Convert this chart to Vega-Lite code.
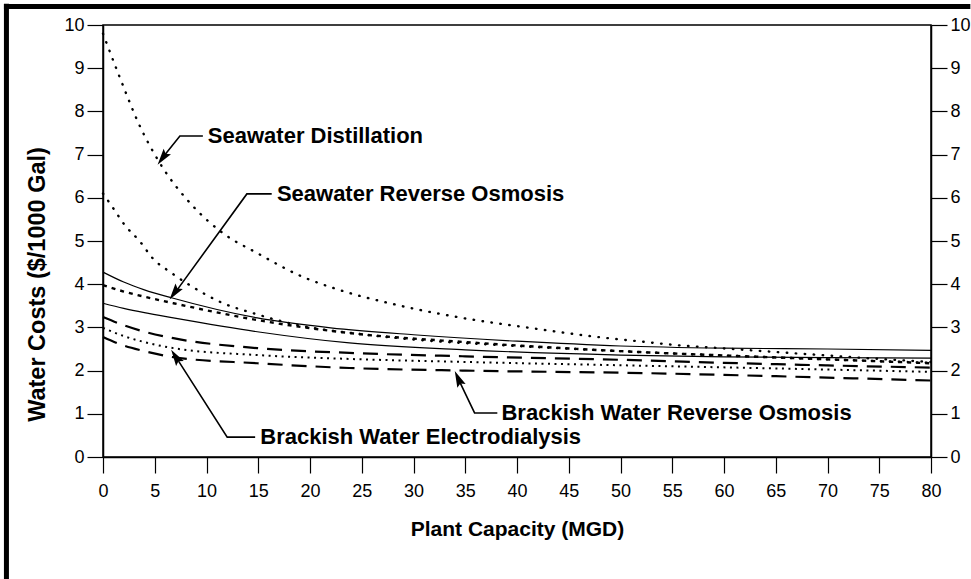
{
  "$schema": "https://vega.github.io/schema/vega-lite/v6.json",
  "width": 828,
  "height": 432,
  "autosize": {"type": "none"},
  "padding": {"left": 103, "top": 25, "right": 40, "bottom": 122},
  "background": "white",
  "config": {
    "view": {"stroke": "black", "strokeWidth": 1.5},
    "font": "Liberation Sans"
  },
  "datasets": {
    "curves": [
      {"s": "SD high", "x": 0, "y": 9.8}, {"s": "SD high", "x": 1.6, "y": 8.8}, {"s": "SD high", "x": 3.6, "y": 7.64}, {"s": "SD high", "x": 5.5, "y": 6.8}, {"s": "SD high", "x": 8.6, "y": 5.83}, {"s": "SD high", "x": 11.6, "y": 5.18}, {"s": "SD high", "x": 14.9, "y": 4.72}, {"s": "SD high", "x": 19.3, "y": 4.17}, {"s": "SD high", "x": 22.8, "y": 3.87}, {"s": "SD high", "x": 28.4, "y": 3.52}, {"s": "SD high", "x": 34.7, "y": 3.22}, {"s": "SD high", "x": 41.2, "y": 2.99}, {"s": "SD high", "x": 47.7, "y": 2.78}, {"s": "SD high", "x": 52.5, "y": 2.66}, {"s": "SD high", "x": 55.4, "y": 2.59}, {"s": "SD high", "x": 59.6, "y": 2.52}, {"s": "SD high", "x": 65, "y": 2.43}, {"s": "SD high", "x": 70, "y": 2.35}, {"s": "SD high", "x": 75, "y": 2.27}, {"s": "SD high", "x": 80, "y": 2.2},
      {"s": "SD low", "x": 0, "y": 6.1}, {"s": "SD low", "x": 0.9, "y": 5.79}, {"s": "SD low", "x": 2.1, "y": 5.37}, {"s": "SD low", "x": 3.6, "y": 4.98}, {"s": "SD low", "x": 4.8, "y": 4.6}, {"s": "SD low", "x": 6.5, "y": 4.28}, {"s": "SD low", "x": 8.1, "y": 4.02}, {"s": "SD low", "x": 9.7, "y": 3.79}, {"s": "SD low", "x": 11.6, "y": 3.56}, {"s": "SD low", "x": 14.5, "y": 3.33}, {"s": "SD low", "x": 18.7, "y": 3.06}, {"s": "SD low", "x": 25, "y": 2.84}, {"s": "SD low", "x": 30, "y": 2.72}, {"s": "SD low", "x": 40, "y": 2.57}, {"s": "SD low", "x": 50, "y": 2.45}, {"s": "SD low", "x": 60, "y": 2.35}, {"s": "SD low", "x": 70, "y": 2.26}, {"s": "SD low", "x": 80, "y": 2.18},
      {"s": "SRO high", "x": 0, "y": 4.28}, {"s": "SRO high", "x": 2, "y": 4.05}, {"s": "SRO high", "x": 4, "y": 3.87}, {"s": "SRO high", "x": 6.7, "y": 3.68}, {"s": "SRO high", "x": 14.9, "y": 3.22}, {"s": "SRO high", "x": 22, "y": 2.99}, {"s": "SRO high", "x": 30, "y": 2.83}, {"s": "SRO high", "x": 40, "y": 2.68}, {"s": "SRO high", "x": 50, "y": 2.57}, {"s": "SRO high", "x": 60, "y": 2.52}, {"s": "SRO high", "x": 70, "y": 2.5}, {"s": "SRO high", "x": 80, "y": 2.47},
      {"s": "SRO low", "x": 0, "y": 3.98}, {"s": "SRO low", "x": 2, "y": 3.83}, {"s": "SRO low", "x": 4, "y": 3.71}, {"s": "SRO low", "x": 6.8, "y": 3.56}, {"s": "SRO low", "x": 14.9, "y": 3.17}, {"s": "SRO low", "x": 23.8, "y": 2.87}, {"s": "SRO low", "x": 35, "y": 2.66}, {"s": "SRO low", "x": 50, "y": 2.45}, {"s": "SRO low", "x": 60, "y": 2.35}, {"s": "SRO low", "x": 70, "y": 2.26}, {"s": "SRO low", "x": 80, "y": 2.17},
      {"s": "BRO high", "x": 0, "y": 3.56}, {"s": "BRO high", "x": 2, "y": 3.44}, {"s": "BRO high", "x": 4, "y": 3.34}, {"s": "BRO high", "x": 6.8, "y": 3.22}, {"s": "BRO high", "x": 14.9, "y": 2.9}, {"s": "BRO high", "x": 23.8, "y": 2.64}, {"s": "BRO high", "x": 35, "y": 2.48}, {"s": "BRO high", "x": 50, "y": 2.36}, {"s": "BRO high", "x": 60, "y": 2.32}, {"s": "BRO high", "x": 70, "y": 2.3}, {"s": "BRO high", "x": 80, "y": 2.29},
      {"s": "BED high", "x": 0, "y": 3.24}, {"s": "BED high", "x": 2, "y": 3.05}, {"s": "BED high", "x": 4, "y": 2.9}, {"s": "BED high", "x": 6.8, "y": 2.75}, {"s": "BED high", "x": 14.9, "y": 2.52}, {"s": "BED high", "x": 23.8, "y": 2.41}, {"s": "BED high", "x": 35, "y": 2.33}, {"s": "BED high", "x": 50, "y": 2.25}, {"s": "BED high", "x": 60, "y": 2.18}, {"s": "BED high", "x": 70, "y": 2.12}, {"s": "BED high", "x": 80, "y": 2.07},
      {"s": "BED mid", "x": 0, "y": 2.99}, {"s": "BED mid", "x": 2, "y": 2.8}, {"s": "BED mid", "x": 4, "y": 2.66}, {"s": "BED mid", "x": 6.8, "y": 2.52}, {"s": "BED mid", "x": 14.9, "y": 2.36}, {"s": "BED mid", "x": 23.8, "y": 2.27}, {"s": "BED mid", "x": 35, "y": 2.2}, {"s": "BED mid", "x": 52.8, "y": 2.11}, {"s": "BED mid", "x": 65, "y": 2.05}, {"s": "BED mid", "x": 80, "y": 1.97},
      {"s": "BRO low", "x": 0, "y": 2.78}, {"s": "BRO low", "x": 2, "y": 2.58}, {"s": "BRO low", "x": 4, "y": 2.45}, {"s": "BRO low", "x": 6.8, "y": 2.31}, {"s": "BRO low", "x": 14.9, "y": 2.17}, {"s": "BRO low", "x": 23.8, "y": 2.06}, {"s": "BRO low", "x": 35, "y": 2.0}, {"s": "BRO low", "x": 52.8, "y": 1.94}, {"s": "BRO low", "x": 65, "y": 1.87}, {"s": "BRO low", "x": 80, "y": 1.77}
    ],
    "notes": [
      {"label": "Seawater Distillation", "x": 10.13, "y": 7.43},
      {"label": "Seawater Reverse Osmosis", "x": 16.8, "y": 6.09},
      {"label": "Brackish Water Reverse Osmosis", "x": 38.5, "y": 1.02},
      {"label": "Brackish Water Electrodialysis", "x": 15.2, "y": 0.46}
    ],
    "arrows": [
      {"id": "a1", "o": 1, "x": 9.65, "y": 7.43}, {"id": "a1", "o": 2, "x": 7.43, "y": 7.43}, {"id": "a1", "o": 3, "x": 6.0, "y": 7.0},
      {"id": "a2", "o": 1, "x": 16.3, "y": 6.09}, {"id": "a2", "o": 2, "x": 13.9, "y": 6.09}, {"id": "a2", "o": 3, "x": 7.2, "y": 3.88},
      {"id": "a3", "o": 1, "x": 14.7, "y": 0.46}, {"id": "a3", "o": 2, "x": 12.0, "y": 0.46}, {"id": "a3", "o": 3, "x": 7.3, "y": 2.22},
      {"id": "a4", "o": 1, "x": 38.1, "y": 1.02}, {"id": "a4", "o": 2, "x": 35.9, "y": 1.02}, {"id": "a4", "o": 3, "x": 34.5, "y": 1.72}
    ],
    "heads": [
      {"id": "a1", "x": 5.9, "y": 6.97},
      {"id": "a2", "x": 7.05, "y": 3.85},
      {"id": "a3", "x": 7.15, "y": 2.27},
      {"id": "a4", "x": 34.42, "y": 1.76}
    ]
  },
  "resolve": {"axis": {"y": "independent"}},
  "layer": [
    {
      "data": {"name": "curves"},
      "transform": [{"filter": {"field": "s", "oneOf": ["SD high", "SD low"]}}],
      "mark": {"type": "line", "interpolate": "monotone", "color": "black", "strokeWidth": 2.4, "strokeDash": [0.5, 8.5], "strokeCap": "round"},
      "encoding": {
        "x": {"field": "x", "type": "quantitative", "scale": {"domain": [0, 80], "nice": false},
          "axis": {"title": "Plant Capacity (MGD)", "values": [0, 5, 10, 15, 20, 25, 30, 35, 40, 45, 50, 55, 60, 65, 70, 75, 80], "grid": false, "tickSize": 16, "tickColor": "black", "tickWidth": 1.2, "domainColor": "black", "domainWidth": 1.5, "labelFont": "Liberation Sans", "labelFontSize": 18, "labelColor": "black", "labelPadding": 9, "labelFlush": false, "titleFont": "Liberation Sans", "titleFontSize": 21, "titleFontWeight": "bold", "titleColor": "black", "titlePadding": 18}},
        "y": {"field": "y", "type": "quantitative", "scale": {"domain": [0, 10], "nice": false},
          "axis": {"orient": "left", "title": "Water Costs ($/1000 Gal)", "values": [0, 1, 2, 3, 4, 5, 6, 7, 8, 9, 10], "grid": false, "tickSize": 16, "tickColor": "black", "tickWidth": 1.2, "domainColor": "black", "domainWidth": 1.5, "labelFont": "Liberation Sans", "labelFontSize": 18, "labelColor": "black", "labelPadding": 3, "titleFont": "Liberation Sans", "titleFontSize": 23.5, "titleFontWeight": "bold", "titleColor": "black", "titleX": -54, "titleY": 259, "titleAlign": "center", "titleBaseline": "bottom", "titleAngle": 270}},
        "detail": {"field": "s"}
      }
    },
    {
      "data": {"name": "curves"},
      "transform": [{"filter": {"field": "s", "oneOf": ["SRO high", "BRO high"]}}],
      "mark": {"type": "line", "interpolate": "monotone", "color": "black", "strokeWidth": 1.2},
      "encoding": {
        "x": {"field": "x", "type": "quantitative"},
        "y": {"field": "y", "type": "quantitative",
          "axis": {"orient": "right", "title": null, "values": [0, 1, 2, 3, 4, 5, 6, 7, 8, 9, 10], "grid": false, "tickSize": 16, "tickColor": "black", "tickWidth": 1.2, "domainColor": "black", "domainWidth": 1.5, "labelFont": "Liberation Sans", "labelFontSize": 18, "labelColor": "black", "labelPadding": 3}},
        "detail": {"field": "s"}
      }
    },
    {
      "data": {"name": "curves"},
      "transform": [{"filter": {"field": "s", "equal": "SRO low"}}],
      "mark": {"type": "line", "interpolate": "monotone", "color": "black", "strokeWidth": 2.4, "strokeDash": [4, 5]},
      "encoding": {
        "x": {"field": "x", "type": "quantitative"},
        "y": {"field": "y", "type": "quantitative", "axis": null}
      }
    },
    {
      "data": {"name": "curves"},
      "transform": [{"filter": {"field": "s", "equal": "BED mid"}}],
      "mark": {"type": "line", "interpolate": "monotone", "color": "black", "strokeWidth": 2, "strokeDash": [2, 4.5]},
      "encoding": {
        "x": {"field": "x", "type": "quantitative"},
        "y": {"field": "y", "type": "quantitative", "axis": null}
      }
    },
    {
      "data": {"name": "curves"},
      "transform": [{"filter": {"field": "s", "oneOf": ["BED high", "BRO low"]}}],
      "mark": {"type": "line", "interpolate": "monotone", "color": "black", "strokeWidth": 2.2, "strokeDash": [15, 9]},
      "encoding": {
        "x": {"field": "x", "type": "quantitative"},
        "y": {"field": "y", "type": "quantitative", "axis": null},
        "detail": {"field": "s"}
      }
    },
    {
      "data": {"name": "arrows"},
      "mark": {"type": "line", "color": "black", "strokeWidth": 1.6},
      "encoding": {
        "x": {"field": "x", "type": "quantitative"},
        "y": {"field": "y", "type": "quantitative", "axis": null},
        "detail": {"field": "id"},
        "order": {"field": "o"}
      }
    },
    {
      "data": {"name": "heads"},
      "transform": [{"filter": {"field": "id", "equal": "a1"}}],
      "mark": {"type": "point", "shape": "M0,-1.2L-0.5,0.6L0,0.3L0.5,0.6Z", "filled": true, "color": "black", "opacity": 1, "size": 330, "angle": 216.5},
      "encoding": {"x": {"field": "x", "type": "quantitative"}, "y": {"field": "y", "type": "quantitative", "axis": null}}
    },
    {
      "data": {"name": "heads"},
      "transform": [{"filter": {"field": "id", "equal": "a2"}}],
      "mark": {"type": "point", "shape": "M0,-1.2L-0.5,0.6L0,0.3L0.5,0.6Z", "filled": true, "color": "black", "opacity": 1, "size": 330, "angle": 215.8},
      "encoding": {"x": {"field": "x", "type": "quantitative"}, "y": {"field": "y", "type": "quantitative", "axis": null}}
    },
    {
      "data": {"name": "heads"},
      "transform": [{"filter": {"field": "id", "equal": "a3"}}],
      "mark": {"type": "point", "shape": "M0,-1.2L-0.5,0.6L0,0.3L0.5,0.6Z", "filled": true, "color": "black", "opacity": 1, "size": 330, "angle": 327.6},
      "encoding": {"x": {"field": "x", "type": "quantitative"}, "y": {"field": "y", "type": "quantitative", "axis": null}}
    },
    {
      "data": {"name": "heads"},
      "transform": [{"filter": {"field": "id", "equal": "a4"}}],
      "mark": {"type": "point", "shape": "M0,-1.2L-0.5,0.6L0,0.3L0.5,0.6Z", "filled": true, "color": "black", "opacity": 1, "size": 330, "angle": 335.8},
      "encoding": {"x": {"field": "x", "type": "quantitative"}, "y": {"field": "y", "type": "quantitative", "axis": null}}
    },
    {
      "data": {"name": "notes"},
      "mark": {"type": "text", "align": "left", "baseline": "middle", "font": "Liberation Sans", "fontSize": 22, "fontWeight": "bold", "color": "black"},
      "encoding": {
        "x": {"field": "x", "type": "quantitative"},
        "y": {"field": "y", "type": "quantitative", "axis": null},
        "text": {"field": "label"}
      }
    },
    {
      "data": {"values": [{}]},
      "mark": {"type": "rule", "color": "black", "strokeWidth": 5},
      "encoding": {
        "x": {"datum": -9.33, "type": "quantitative"},
        "y": {"datum": 10.49, "type": "quantitative", "axis": null},
        "y2": {"datum": -2.83}
      }
    },
    {
      "data": {"values": [{}]},
      "mark": {"type": "rule", "color": "black", "strokeWidth": 5},
      "encoding": {
        "x": {"datum": -9.57, "type": "quantitative"},
        "x2": {"datum": 83.8},
        "y": {"datum": 10.43, "type": "quantitative", "axis": null}
      }
    }
  ]
}
